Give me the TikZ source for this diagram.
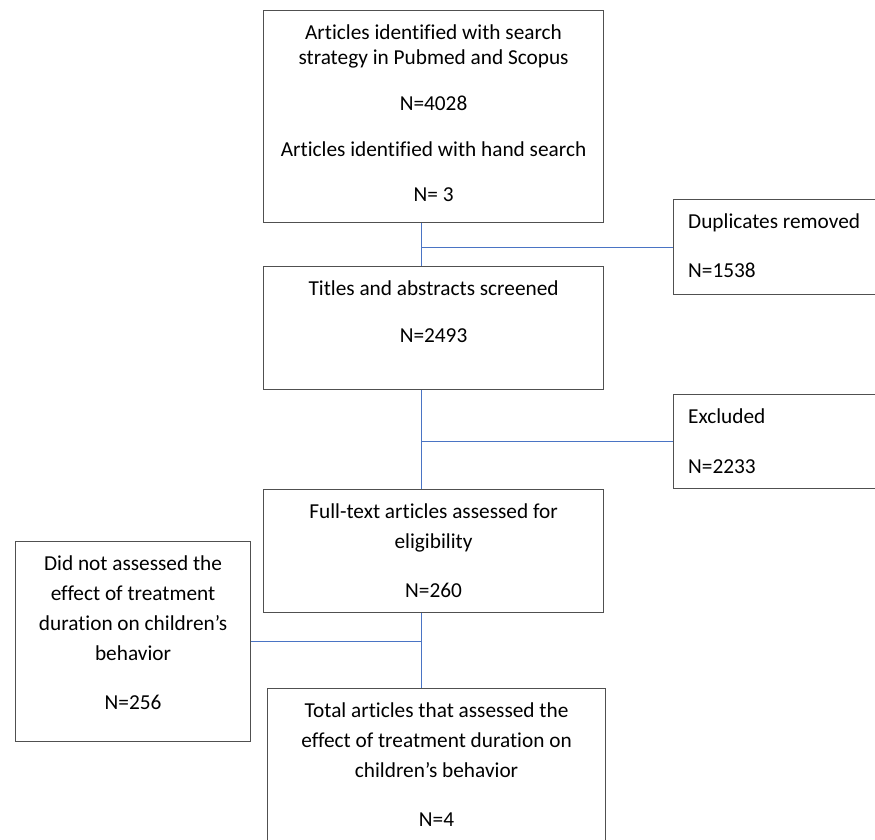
\documentclass[tikz,border=0pt]{standalone}
\usepackage{fontspec}
\setmainfont{Carlito}[Ligatures=NoCommon]
\usetikzlibrary{positioning}

\definecolor{linkblue}{HTML}{4A74C4}
\definecolor{boxgray}{HTML}{505050}
\newcommand{\firstline}{\rule{0pt}{20pt}}

\begin{document}
\begin{tikzpicture}[x=1pt, y=-1pt,
    box/.style={draw=boxgray, line width=1.1pt, inner sep=0pt, anchor=north west},
    txt/.style={inner sep=0pt, align=center, font=\fontsize{21.3}{30}\selectfont},
    ltxt/.style={inner sep=0pt, align=left, font=\fontsize{21.3}{30}\selectfont},
    link/.style={draw=linkblue, line width=1pt}]

    % Page is the size of the image
    \clip (0,0) rectangle (875,840);

    % Boxes of the main column
    \node[box, minimum width=340pt, minimum height=212pt] (search) at (263,10) {};
    \node[box, minimum width=340pt, minimum height=123pt] (titles) at (263,266) {};
    \node[box, minimum width=340pt, minimum height=123pt] (fulltext) at (263,489) {};
    \node[box, minimum width=338pt, minimum height=172pt] (total) at (267,688) {};

    % Boxes on the sides
    \node[box, minimum width=227pt, minimum height=95pt] (dup) at (673,199) {};
    \node[box, minimum width=227pt, minimum height=94pt] (excl) at (673,394) {};
    \node[box, minimum width=235pt, minimum height=200pt] (notass) at (15,541) {};

    % Texts
    \node[txt, font=\fontsize{21.3}{25.7}\selectfont, below=8.8pt of search.north] (searchText)
      {\firstline Articles identified with search\\strategy in Pubmed and Scopus\\[20pt]
       N=4028\\[20pt] Articles identified with hand search\\[20pt] N= 3};
    \node[txt, below=8.8pt of titles.north] (titlesText)
      {\firstline Titles and abstracts screened\\[17pt] N=2493};
    \node[txt, below=8.8pt of fulltext.north] (fulltextText)
      {\firstline Full-text articles assessed for\\eligibility\\[19pt] N=260};
    \node[txt, below=8.8pt of total.north] (totalText)
      {\firstline Total articles that assessed the\\effect of treatment duration on\\children’s behavior\\[19pt] N=4};
    \node[ltxt, below right=8.8pt and 15pt of dup.north west] (dupText)
      {\firstline Duplicates removed\\[19pt] N=1538};
    \node[ltxt, below right=8.8pt and 15pt of excl.north west] (exclText)
      {\firstline Excluded\\[20pt] N=2233};
    \node[txt, below=8.8pt of notass.north] (notassText)
      {\firstline Did not assessed the\\effect of treatment\\duration on children’s\\behavior\\[19pt] N=256};

    % Connectors
    \coordinate (spine) at (421,0);
    \draw[link] (search.south -| spine) -- (titles.north -| spine);
    \draw[link] (spine |- dup.west) -- (dup.west);
    \draw[link] (titles.south -| spine) -- (fulltext.north -| spine);
    \draw[link] (spine |- excl.west) -- (excl.west);
    \draw[link] (fulltext.south -| spine) -- (total.north -| spine);
    \draw[link] (notass.east) -- (spine |- notass.east);
\end{tikzpicture}
\end{document}
